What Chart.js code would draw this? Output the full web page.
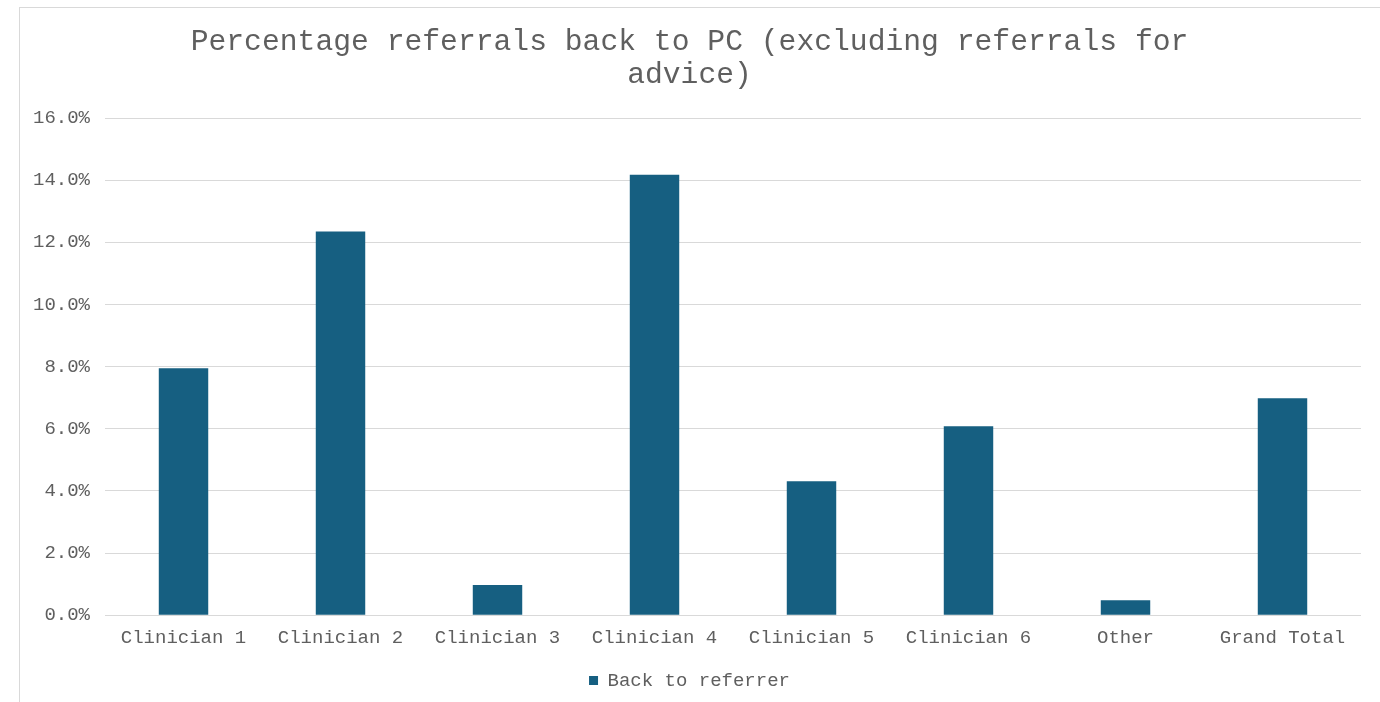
<!DOCTYPE html>
<html>
<head>
<meta charset="utf-8">
<script src="https://cdn.jsdelivr.net/npm/chart.js@4/dist/chart.umd.min.js"></script>
<style>
  html, body { margin: 0; padding: 0; background: #ffffff; overflow: hidden; }
  #wrap { position: relative; width: 1380px; height: 702px; }
  #frame { position: absolute; left: 19px; top: 7px; width: 1400px; height: 720px; border: 1px solid #d9d9d9; box-sizing: border-box; }
  #c { position: absolute; left: 0; top: 0; }
</style>
</head>
<body>
<div id="wrap">
  <div id="frame"></div>
  <canvas id="c" width="1380" height="702"></canvas>
</div>
<script>
const categories = ['Clinician 1', 'Clinician 2', 'Clinician 3', 'Clinician 4', 'Clinician 5', 'Clinician 6', 'Other', 'Grand Total'];
const backToReferrer = [7.95, 12.35, 0.97, 14.18, 4.31, 6.08, 0.48, 6.98];
const seriesName = 'Back to referrer';
const titleLines = ['Percentage referrals back to PC (excluding referrals for', 'advice)'];
const yMax = 16;
const yStep = 2;

const FONT = "'Liberation Mono', 'Courier New', monospace";
const TEXT = '#5f5f5f';

new Chart(document.getElementById('c'), {
  type: 'bar',
  data: {
    labels: categories,
    datasets: [{
      label: seriesName,
      data: backToReferrer,
      backgroundColor: '#165F81',
      borderWidth: 0,
      barPercentage: 0.315,
      categoryPercentage: 1.0
    }]
  },
  options: {
    responsive: false,
    animation: false,
    devicePixelRatio: 1,
    layout: { padding: { left: 18, right: 19, top: 25, bottom: 2 } },
    plugins: {
      title: {
        display: true,
        text: titleLines,
        color: TEXT,
        font: { family: FONT, size: 29.7, weight: 'normal', lineHeight: 1.13 },
        padding: { top: 0, bottom: 26 }
      },
      legend: {
        display: true,
        position: 'bottom',
        labels: {
          color: TEXT,
          font: { family: FONT, size: 19 },
          boxWidth: 9,
          boxHeight: 9,
          padding: 15
        }
      },
      tooltip: { enabled: false }
    },
    scales: {
      x: {
        grid: { display: false },
        border: { display: false },
        ticks: { color: TEXT, font: { family: FONT, size: 19 }, padding: 3, maxRotation: 0 },
        afterFit: s => { s.height += 4; }
      },
      y: {
        min: 0,
        max: yMax,
        ticks: {
          stepSize: yStep,
          color: TEXT,
          font: { family: FONT, size: 19 },
          padding: 15,
          callback: v => v.toFixed(1) + '%'
        },
        grid: { color: '#d9d9d9', lineWidth: 1, drawTicks: false },
        border: { display: false }
      }
    }
  }
});
</script>
</body>
</html>
